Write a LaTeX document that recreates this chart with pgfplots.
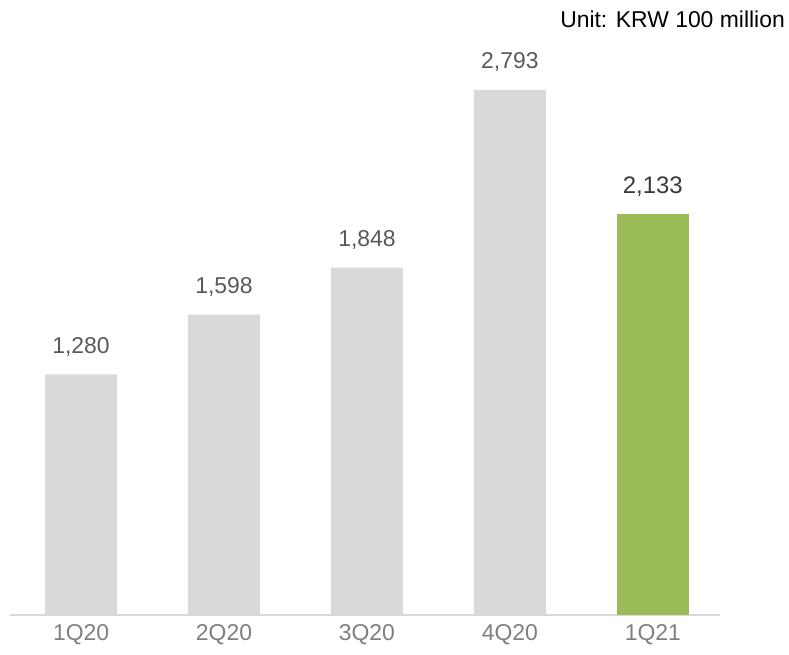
\documentclass[border=0pt]{standalone}
\usepackage{pgfplots}
\pgfplotsset{compat=1.18}
\usepackage{fontspec}
\setmainfont{Liberation Sans}
\definecolor{bargrey}{HTML}{D9D9D9}
\definecolor{bargreen}{HTML}{9BBB59}
\definecolor{labgrey}{HTML}{595959}
\definecolor{tickgrey}{HTML}{7F7F7F}
\definecolor{labdark}{HTML}{3A3A3A}
\begin{document}
\begin{tikzpicture}
\path[use as bounding box] (-10bp,-40bp) rectangle (779bp,615bp);
\begin{axis}[
  at={(0,0)}, anchor=south west,
  scale only axis, width=710bp, height=615bp,
  xmin=-0.497, xmax=4.47, ymin=0, ymax=3271.8,
  ybar, bar width=72bp, bar shift=0pt,
  hide y axis,
  axis x line*=bottom,
  x axis line style={draw=bargrey, line width=2bp, -},
  xtick={0,1,2,3,4},
  xticklabels={1Q20,2Q20,3Q20,4Q20,1Q21},
  major tick length=0pt,
  xticklabel style={font=\fontsize{23}{26}\selectfont, text=tickgrey, inner sep=0pt, yshift=-9bp},
  /pgf/number format/assume math mode=true,
  /pgf/number format/1000 sep={,},
  nodes near coords,
  nodes near coords style={anchor=base, yshift=21bp, inner sep=0pt, font=\fontsize{23}{26}\selectfont, text=labgrey},
  clip=false,
]
\addplot[fill=bargrey, draw=none] coordinates {(0,1280) (1,1598) (2,1848) (3,2793)};
\addplot[fill=bargreen, draw=none, nodes near coords style={text=labdark, font=\fontsize{24}{27}\selectfont}] coordinates {(4,2133)};
\end{axis}
\node[anchor=base east, inner sep=0pt, font=\fontsize{23}{26}\selectfont, text=black] at (775bp,587bp) {Unit: KRW 100 million};
\end{tikzpicture}
\end{document}
